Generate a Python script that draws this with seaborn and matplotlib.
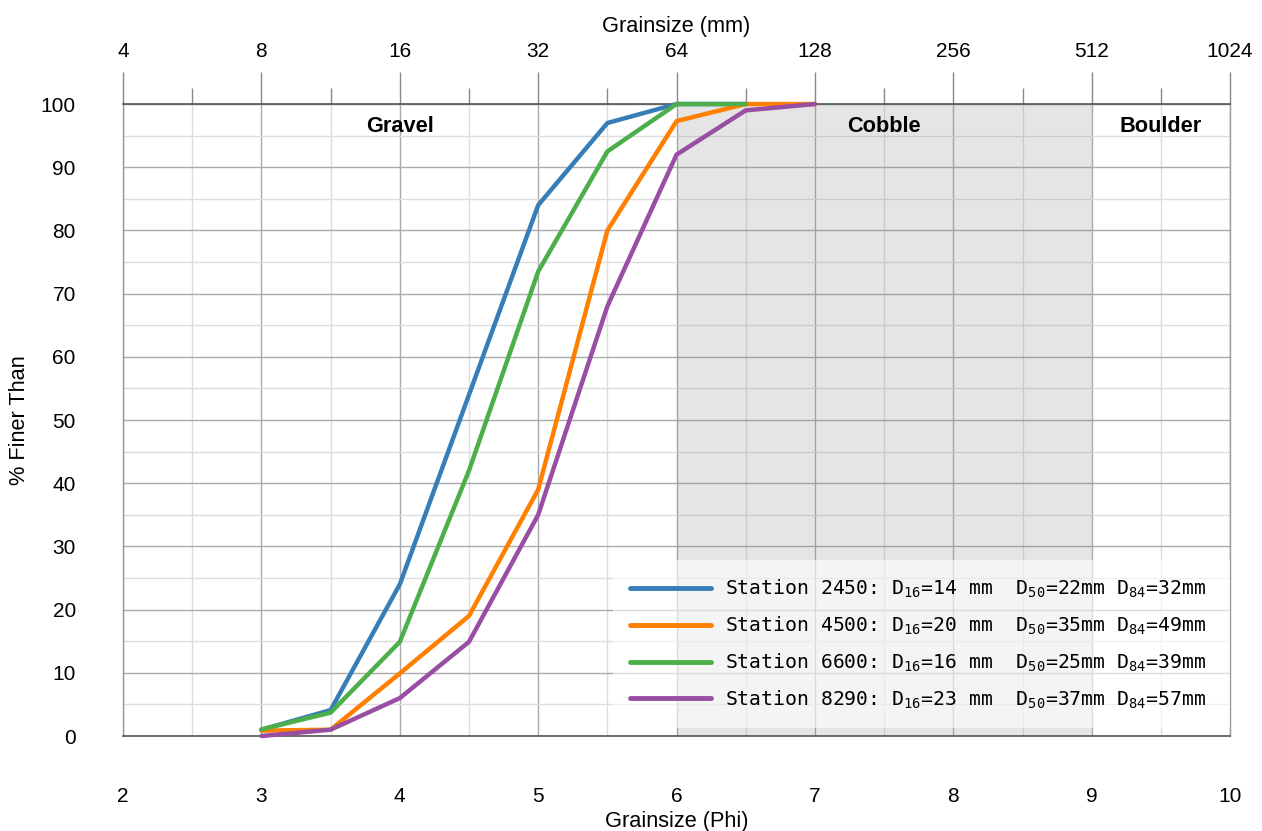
import numpy as np
import pandas as pd
import matplotlib
matplotlib.use("Agg")
import matplotlib.pyplot as plt
import seaborn as sns
from matplotlib.ticker import MultipleLocator

# ---------------- data ----------------
stations = ["2450", "4500", "6600", "8290"]
phi_2450 = [3, 3.5, 4, 4.5, 5, 5.5, 6, 6.5]
finer_2450 = [1, 4.1, 24, 54, 84, 97, 100, 100]
phi_4500 = [3, 3.5, 4, 4.5, 5, 5.5, 6, 6.5, 7]
finer_4500 = [0.85, 1, 9.9, 19, 39, 80, 97.3, 100, 100]
phi_6600 = [3, 3.5, 4, 4.5, 5, 5.5, 6, 6.5]
finer_6600 = [1.05, 3.7, 14.9, 42, 73.5, 92.5, 100, 100]
phi_8290 = [3, 3.5, 4, 4.5, 5, 5.5, 6, 6.5, 7]
finer_8290 = [0, 1, 6, 14.9, 35, 68, 92, 99, 100]

d16 = ["14", "20", "16", "23"]
d50 = ["22", "35", "25", "37"]
d84 = ["32", "49", "39", "57"]

colors = ["#377eb8", "#ff7f00", "#4daf4a", "#984ea3"]

phi_ticks = [2, 3, 4, 5, 6, 7, 8, 9, 10]
mm_labels = ["4", "8", "16", "32", "64", "128", "256", "512", "1024"]
y_ticks = [0, 10, 20, 30, 40, 50, 60, 70, 80, 90, 100]

zones = ["Gravel", "Cobble", "Boulder"]
zone_x = [4.0, 7.5, 9.5]
cobble_range = [6, 9]

# ---------------- build table ----------------
labels = [f"Station {s}: D$_{{16}}$={a} mm  D$_{{50}}$={b}mm D$_{{84}}$={c}mm"
          for s, a, b, c in zip(stations, d16, d50, d84)]
phis = [phi_2450, phi_4500, phi_6600, phi_8290]
fins = [finer_2450, finer_4500, finer_6600, finer_8290]
rows = []
for lab, p, f in zip(labels, phis, fins):
    for pp, ff in zip(p, f):
        rows.append({"phi": pp, "finer": ff, "station": lab})
df = pd.DataFrame(rows)

# ---------------- style ----------------
sns.set_style("white")
plt.rcParams["font.family"] = ["Liberation Sans", "DejaVu Sans"]
plt.rcParams["text.color"] = "black"
plt.rcParams["axes.labelcolor"] = "black"
plt.rcParams["xtick.labelcolor"] = "black"
plt.rcParams["ytick.labelcolor"] = "black"
plt.rcParams["mathtext.fontset"] = "custom"
plt.rcParams["mathtext.rm"] = "DejaVu Sans Mono"
plt.rcParams["mathtext.it"] = "DejaVu Sans Mono"
plt.rcParams["mathtext.bf"] = "DejaVu Sans Mono"
plt.rcParams["mathtext.default"] = "rm"

fig = plt.figure(figsize=(12.62, 8.31), dpi=100)
ax = fig.add_axes([0.0975, 0.1143, 0.8772, 0.7605])

ax.axvspan(cobble_range[0], cobble_range[1], ymin=0, ymax=1,
           color="#808080", alpha=0.2, lw=0, zorder=1)

sns.lineplot(data=df, x="phi", y="finer", hue="station", palette=colors,
             estimator=None, sort=False, lw=3.2, ax=ax, clip_on=False, zorder=3)

ax.set_xlim(2, 10)
ax.set_ylim(0, 100)
ax.set_xticks(phi_ticks)
ax.set_yticks(y_ticks)
ax.xaxis.set_minor_locator(MultipleLocator(0.5))
ax.yaxis.set_minor_locator(MultipleLocator(5))
ax.grid(which="major", color="#aaaaaa", lw=1, zorder=0)
ax.grid(which="minor", color="#dddddd", lw=1, zorder=0)
ax.set_axisbelow(True)

ax.tick_params(axis="x", which="major", length=23, width=1, color="#888888",
               labelsize=15, pad=14)
ax.tick_params(axis="x", which="minor", length=11.5, width=1, color="#888888")
ax.tick_params(axis="y", which="major", length=22, width=1, color="#888888",
               labelsize=15, pad=12)
ax.tick_params(axis="y", which="minor", length=11, width=1, color="#888888")

for side in ["left", "right"]:
    ax.spines[side].set_color("#999999")
    ax.spines[side].set_linewidth(1)
for side in ["top", "bottom"]:
    ax.spines[side].set_color("#555555")
    ax.spines[side].set_linewidth(1.2)

ax.set_xlabel("Grainsize (Phi)", fontsize=15.7, labelpad=3)
ax.set_ylabel("% Finer Than", fontsize=15.7, labelpad=8)

sec = ax.secondary_xaxis("top")
sec.set_xticks(phi_ticks, labels=mm_labels)
sec.xaxis.set_minor_locator(MultipleLocator(0.5))
sec.tick_params(axis="x", which="major", length=23, width=1, color="#888888",
                labelsize=15, pad=8)
sec.tick_params(axis="x", which="minor", length=11.5, width=1, color="#888888")
sec.spines["top"].set_color("#555555")
sec.set_xlabel("Grainsize (mm)", fontsize=15.7, labelpad=7)

for name, x in zip(zones, zone_x):
    ax.text(x, 96.5, name, ha="center", va="center", fontsize=15.7,
            fontweight="bold", zorder=4)

handles, labs = ax.get_legend_handles_labels()
leg = ax.legend(handles, labs, loc="lower left",
                bbox_to_anchor=(0.4426, 0.0127, 0.5574, 0.0), mode="expand",
                borderaxespad=0, handlelength=4.1, handletextpad=0.7,
                labelspacing=0.74, borderpad=0.88, frameon=True,
                prop={"family": "DejaVu Sans Mono", "size": 14.2})
leg.get_frame().set_facecolor("white")
leg.get_frame().set_alpha(0.6)
leg.get_frame().set_edgecolor("none")
leg.get_frame().set_boxstyle("square", pad=0)
for h in leg.get_lines():
    h.set_linewidth(3.5)

fig.savefig("out.png", dpi=100)
